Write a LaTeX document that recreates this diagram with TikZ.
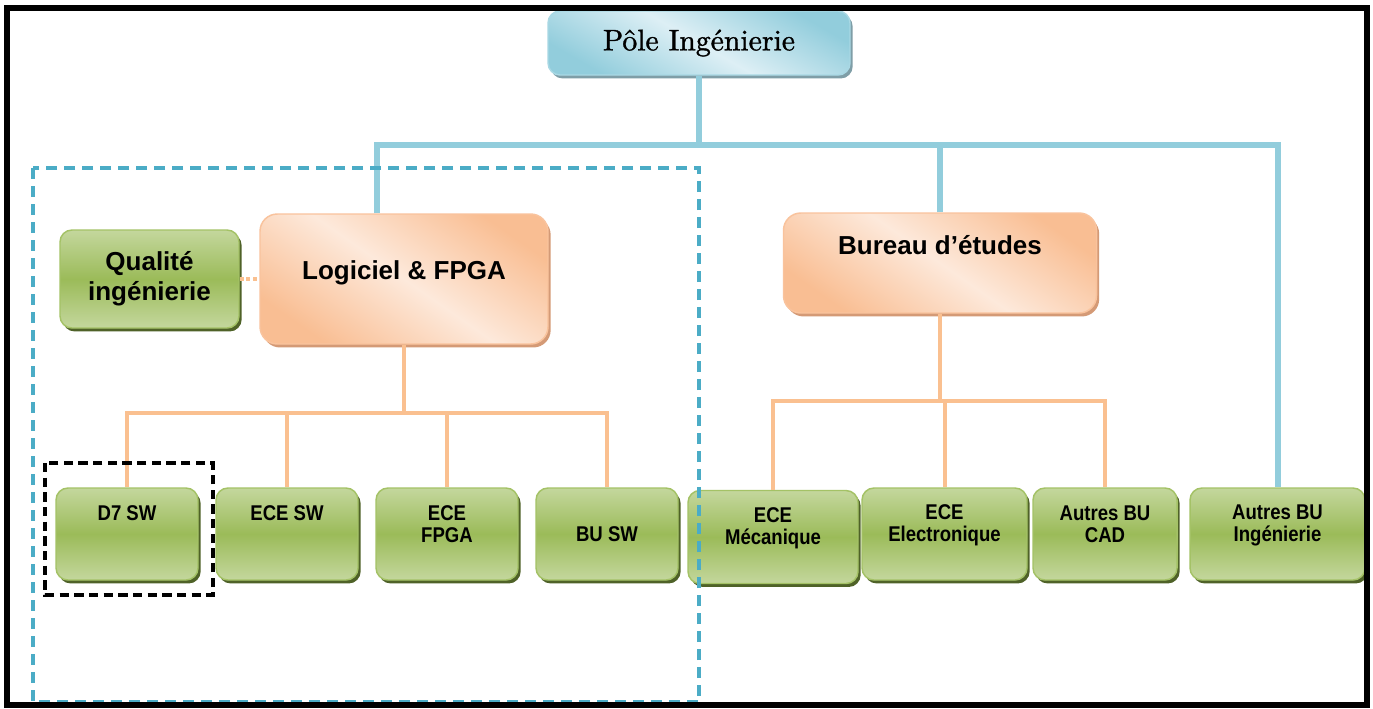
\documentclass[tikz,border=0pt]{standalone}
\usepackage{fontspec}
\newfontfamily\sansb{Liberation Sans}
\newfontfamily\sansn{Liberation Sans}[FakeStretch=0.87]
\newfontface\polefont{lmroman10-regular.otf}[FakeBold=1.2]
\usetikzlibrary{shadows,calc}
\definecolor{gmid}{HTML}{9BBB59}
\definecolor{glight}{HTML}{C4D79D}
\definecolor{gline}{HTML}{A4C266}
\definecolor{gshadow}{HTML}{4F6228}
\definecolor{odark}{HTML}{F9BE93}
\definecolor{olight}{HTML}{FDE9DB}
\definecolor{oline}{HTML}{F9C39D}
\definecolor{oshadow}{HTML}{D49A76}
\definecolor{bdark}{HTML}{92CDDC}
\definecolor{blight}{HTML}{DDEFF5}
\definecolor{bline}{HTML}{A9D8E4}
\definecolor{bshadow}{HTML}{7F9EA7}
\definecolor{cblue}{HTML}{92CDDC}
\definecolor{corange}{HTML}{FAC090}
\definecolor{cdash}{HTML}{4BACC6}
\begin{document}
\begin{tikzpicture}[x=0.75pt,y=-0.75pt,
  sz/.style 2 args={minimum width=#1*0.75pt, minimum height=#2*0.75pt},
  gbox/.style={rounded corners=9pt, draw=gline, line width=1.1pt,
    top color=glight, bottom color=glight, middle color=gmid,
    drop shadow={shadow xshift=2pt, shadow yshift=-2.6pt, fill=gshadow, opacity=1},
    inner sep=0pt},
  obox/.style={rounded corners=13pt, draw=oline, line width=1.1pt,
    top color=odark, bottom color=odark, middle color=olight, shading angle=-35,
    drop shadow={shadow xshift=2pt, shadow yshift=-2.6pt, fill=oshadow, opacity=1},
    inner sep=0pt},
  pbox/.style={rounded corners=9pt, draw=bline, line width=1.1pt,
    top color=bdark, bottom color=bdark, middle color=blight, shading angle=-30,
    drop shadow={shadow xshift=2pt, shadow yshift=-2.6pt, fill=bshadow, opacity=1},
    inner sep=0pt},
  gtxt/.style={font=\sansn\bfseries\fontsize{16pt}{16.5pt}\selectfont, align=center, inner sep=0pt},
  btxt/.style={font=\sansb\bfseries\fontsize{19.5pt}{22.5pt}\selectfont, align=center, inner sep=0pt},
  blueline/.style={draw=cblue, line width=4.5pt},
  orangeline/.style={draw=corange, line width=3pt}
]
\useasboundingbox (0,0) rectangle (1373,708);
\fill[white] (0,0) rectangle (1373,708);

% top
\node[pbox, sz={302}{64}, font=\polefont\fontsize{22.3pt}{26pt}\selectfont] (pole) at (699,43) {Pôle Ingénierie};

% second level
\node[obox, sz={288}{130}] (logic) at (404,279) {};
\node[btxt] (logict) at (404,273) {Logiciel \& FPGA};
\node[gbox, sz={179}{98}, btxt] (qual) at (149.5,279) {Qualité\\ingénierie};
\node[obox, sz={313}{100}] (bureau) at (940,263) {};
\node[btxt] (bureaut) at (940,245) {Bureau d’études};

% third level, left
\node[gbox, sz={142}{92}] (d7) at (127,534) {};
\node[gtxt] (d7t) at (127,513) {D7 SW};
\node[gbox, sz={142}{92}] (ecesw) at (287,534) {};
\node[gtxt] (ecesst) at (287,513) {ECE SW};
\node[gbox, sz={142}{92}] (fpga) at (447,534) {};
\node[gtxt] (fpgat) at (447,524) {ECE\\FPGA};
\node[gbox, sz={142}{92}, gtxt] (busw) at (607,534) {BU SW};

% third level, right
\node[gbox, sz={170}{93}] (meca) at (773,537) {};
\node[gtxt] (mecat) at (773,528) {ECE\\Mécanique};
\node[gbox, sz={165}{92}] (elec) at (944.5,534) {};
\node[gtxt] (elect) at (944.5,525) {ECE\\Electronique};
\node[gbox, sz={144}{92}] (cad) at (1105,534) {};
\node[gtxt] (cadt) at (1105,524) {Autres BU\\CAD};
\node[gbox, sz={175}{92}] (autresI) at (1277.5,534) {};
\node[gtxt] (autresIt) at (1277.5,525) {Autres BU\\Ingénierie};

% blue connectors
\coordinate (bus) at (699,145);
\coordinate (busL) at (377,145);
\draw[blueline] (pole.south) -- (bus);
\draw[blueline] (busL |- logic.north) -- (busL) -- (autresI.north |- bus) -- (autresI.north);
\draw[blueline] (bureau.north) -- (bureau.north |- bus);

% orange connectors
\coordinate (lbus) at (405,413);
\draw[orangeline] (logic.south) -- (logic.south |- lbus);
\draw[orangeline] (d7.north) |- (busw.north |- lbus) -- (busw.north);
\draw[orangeline] (ecesw.north) -- (ecesw.north |- lbus);
\draw[orangeline] (fpga.north) -- (fpga.north |- lbus);
\coordinate (rbus) at (940,401);
\draw[orangeline] (bureau.south) -- (bureau.south |- rbus);
\draw[orangeline] (meca.north) |- (cad.north |- rbus) -- (cad.north);
\draw[orangeline] (elec.north) -- (elec.north |- rbus);
\draw[orangeline, line width=2.6pt, dash pattern=on 3pt off 2pt] (qual.east) -- (logic.west);

% dashed frames
\draw[cdash, line width=2.8pt, dash pattern=on 8pt off 5.5pt] (33,168) rectangle (699,702);
\draw[black, line width=2.4pt, dash pattern=on 7pt off 4pt] (45,463) rectangle (213,595);

% outer frame
\draw[black, line width=3.9pt] (7,8) rectangle (1367,705);
\end{tikzpicture}
\end{document}
